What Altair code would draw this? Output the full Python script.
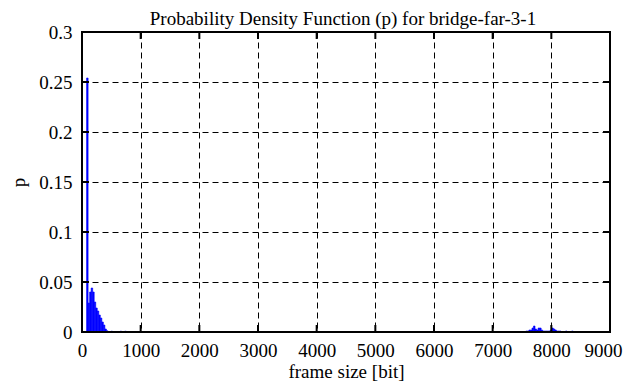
import altair as alt
import pandas as pd

# ---- data ----
bin_width = 26
bin_start = [78, 104, 130, 156, 182, 208, 234, 260, 286, 312, 338, 364, 390, 416,
             468, 494, 650, 728,
             7566, 7592, 7618, 7644, 7670, 7696, 7722, 7748, 7774, 7800, 7826,
             7852, 7878, 7904, 7930, 7956, 7982, 8008, 8034, 8060, 8086, 8112,
             8138, 8242, 8346]
prob = [0.254, 0.029, 0.040, 0.044, 0.040, 0.030, 0.024, 0.021, 0.017, 0.014,
        0.010, 0.007, 0.003, 0.0012,
        0.0005, 0.0008, 0.0008, 0.0008,
        0.001, 0.001, 0.002, 0.002, 0.004, 0.006, 0.003, 0.002, 0.004, 0.004,
        0.002, 0.001, 0.001, 0.001, 0.001, 0.001, 0.002, 0.004, 0.003, 0.002,
        0.001, 0.001, 0.001, 0.001, 0.001]
x_ticks = [0, 1000, 2000, 3000, 4000, 5000, 6000, 7000, 8000, 9000]
y_ticks = [0, 0.05, 0.1, 0.15, 0.2, 0.25, 0.3]

title_text = "Probability Density Function (p) for bridge-far-3-1"
x_title = "frame size [bit]"
y_title = "p"

df = pd.DataFrame({"start": bin_start,
                   "end": [s + bin_width for s in bin_start],
                   "p": prob})
xt = pd.DataFrame({"v": x_ticks})
yt = pd.DataFrame({"v": y_ticks})

W, H = 528, 300
FONT = "Liberation Serif"
FS = 19
TICK = 7

xs = alt.Scale(domain=[0, 9000], nice=False, zero=False)
ys = alt.Scale(domain=[0, 0.3], nice=False)

common = dict(grid=True, gridDash=[6, 4], gridColor="black",
              gridOpacity=1, gridWidth=1, ticks=False, domain=False,
              zindex=1, labelFlush=False,
              labelFont=FONT, labelFontSize=FS, labelColor="black",
              titleFont=FONT, titleFontSize=FS, titleColor="black",
              titleFontWeight="normal")
xaxis = alt.Axis(values=x_ticks, format="d", title=x_title,
                 labelPadding=9, titlePadding=2,
                 labelOffset={"condition": {"test": "datum.value == 9000",
                                            "value": -7},
                              "value": 0},
                 **common)
yaxis = alt.Axis(values=y_ticks, format="~g", title=y_title,
                 labelPadding=10, titlePadding=10, **common)

bars = alt.Chart(df).mark_rect(color="#0000ff", stroke="#0000ff",
                               strokeWidth=0.6).encode(
    x=alt.X("start:Q", scale=xs, axis=xaxis),
    x2="end:Q",
    y=alt.Y("p:Q", scale=ys, axis=yaxis),
    y2=alt.datum(0),
)

xtick_bottom = alt.Chart(xt).mark_rule(color="black", strokeWidth=2).encode(
    x=alt.X("v:Q", scale=xs, axis=xaxis),
    y=alt.value(H), y2=alt.value(H - TICK))
xtick_top = alt.Chart(xt).mark_rule(color="black", strokeWidth=2).encode(
    x=alt.X("v:Q", scale=xs, axis=xaxis),
    y=alt.value(0), y2=alt.value(TICK))
ytick_left = alt.Chart(yt).mark_rule(color="black", strokeWidth=2).encode(
    y=alt.Y("v:Q", scale=ys, axis=yaxis),
    x=alt.value(0), x2=alt.value(TICK))
ytick_right = alt.Chart(yt).mark_rule(color="black", strokeWidth=2).encode(
    y=alt.Y("v:Q", scale=ys, axis=yaxis),
    x=alt.value(W), x2=alt.value(W - TICK))

border = alt.Chart(xt).mark_rect(filled=False, stroke="black",
                                 strokeWidth=2).encode(
    x=alt.value(0), x2=alt.value(W), y=alt.value(0), y2=alt.value(H))

chart = alt.layer(bars, xtick_bottom, xtick_top, ytick_left, ytick_right,
                  border).properties(
    width=W, height=H,
    background="white",
    autosize=alt.AutoSizeParams(type="none"),
    padding={"left": 74, "top": 24, "right": 13, "bottom": 55},
    title=alt.Title(text=title_text, font=FONT, fontSize=FS,
                    fontWeight="normal", color="black", offset=3, dy=9,
                    dx=-3),
).configure_view(stroke=None)

chart.save("out.html", embed_options={"renderer": "svg", "actions": False})
